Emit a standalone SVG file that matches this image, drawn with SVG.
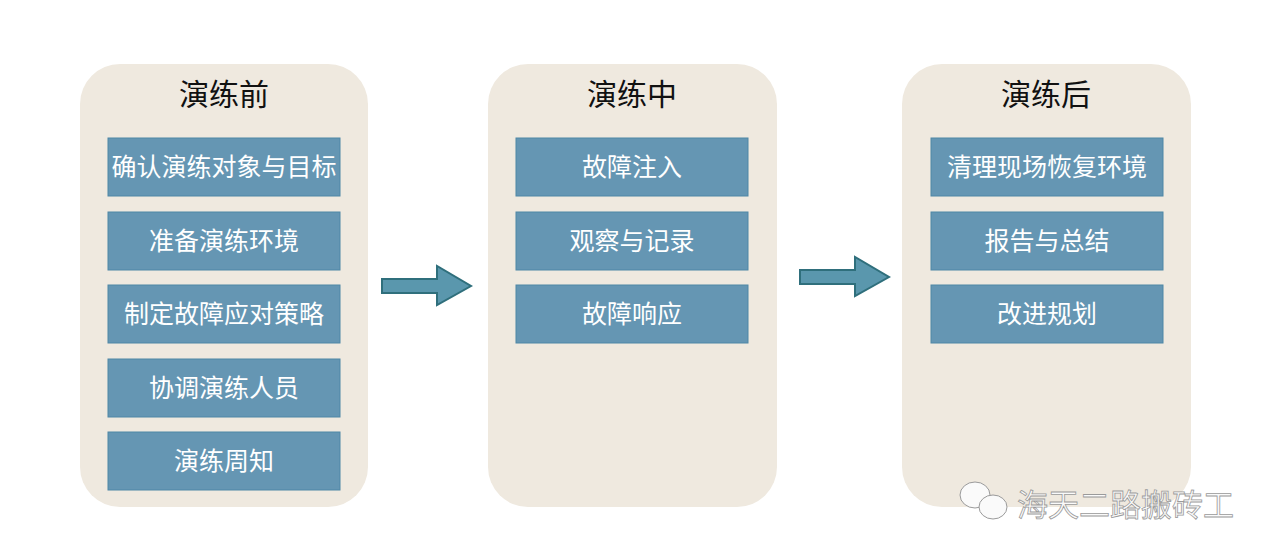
<svg xmlns="http://www.w3.org/2000/svg" width="1280" height="544" viewBox="0 0 1280 544">
<style>
.panel{fill:#efe9df}
.box{fill:#6596b3;stroke:#4f87a6;stroke-width:1}
.t{font-family:"Noto Sans CJK SC",sans-serif;font-size:25px;fill:#fff;text-anchor:middle;dominant-baseline:central}
.h{font-family:"Noto Sans CJK SC",sans-serif;font-size:30px;fill:#111;text-anchor:middle;dominant-baseline:central}
.arrow{fill:#5a97ad;stroke:#2f6f7c;stroke-width:2}
.wm{font-family:"Noto Sans CJK SC",sans-serif;font-size:31px;fill:#fafafa;stroke:#9a9a9a;stroke-width:0.8}
</style>
<rect width="1280" height="544" fill="#fff"/>
<g id="before">
<rect class="panel" x="80" y="64" width="288" height="443" rx="40"/>
<text class="h" x="224" y="92">演练前</text>
<rect class="box" x="108" y="138" width="232" height="58"/><text class="t" x="224" y="165">确认演练对象与目标</text>
<rect class="box" x="108" y="212" width="232" height="58"/><text class="t" x="224" y="239">准备演练环境</text>
<rect class="box" x="108" y="285" width="232" height="58"/><text class="t" x="224" y="312">制定故障应对策略</text>
<rect class="box" x="108" y="359" width="232" height="58"/><text class="t" x="224" y="386">协调演练人员</text>
<rect class="box" x="108" y="432" width="232" height="58"/><text class="t" x="224" y="459">演练周知</text>
</g>
<g id="during">
<rect class="panel" x="488" y="64" width="289" height="443" rx="40"/>
<text class="h" x="632" y="92">演练中</text>
<rect class="box" x="516" y="138" width="232" height="58"/><text class="t" x="632" y="165">故障注入</text>
<rect class="box" x="516" y="212" width="232" height="58"/><text class="t" x="632" y="239">观察与记录</text>
<rect class="box" x="516" y="285" width="232" height="58"/><text class="t" x="632" y="312">故障响应</text>
</g>
<g id="after">
<rect class="panel" x="902" y="64" width="289" height="443" rx="40"/>
<text class="h" x="1046" y="92">演练后</text>
<rect class="box" x="931" y="138" width="232" height="58"/><text class="t" x="1047" y="165">清理现场恢复环境</text>
<rect class="box" x="931" y="212" width="232" height="58"/><text class="t" x="1047" y="239">报告与总结</text>
<rect class="box" x="931" y="285" width="232" height="58"/><text class="t" x="1047" y="312">改进规划</text>
</g>
<g id="connectors">
<path class="arrow" d="M382 279 H437 V266 L471 286 L437 305 V293 H382 Z"/>
<path class="arrow" d="M800 270 H855 V257 L889 277 L855 296 V284 H800 Z"/>
</g>
<g id="watermark">
<ellipse cx="975" cy="495" rx="15" ry="13" fill="#fafafa" stroke="#9a9a9a"/>
<ellipse cx="993" cy="507" rx="14" ry="12" fill="#fafafa" stroke="#9a9a9a"/>
<text class="wm" x="1017" y="516">海天二路搬砖工</text>
</g>
</svg>
